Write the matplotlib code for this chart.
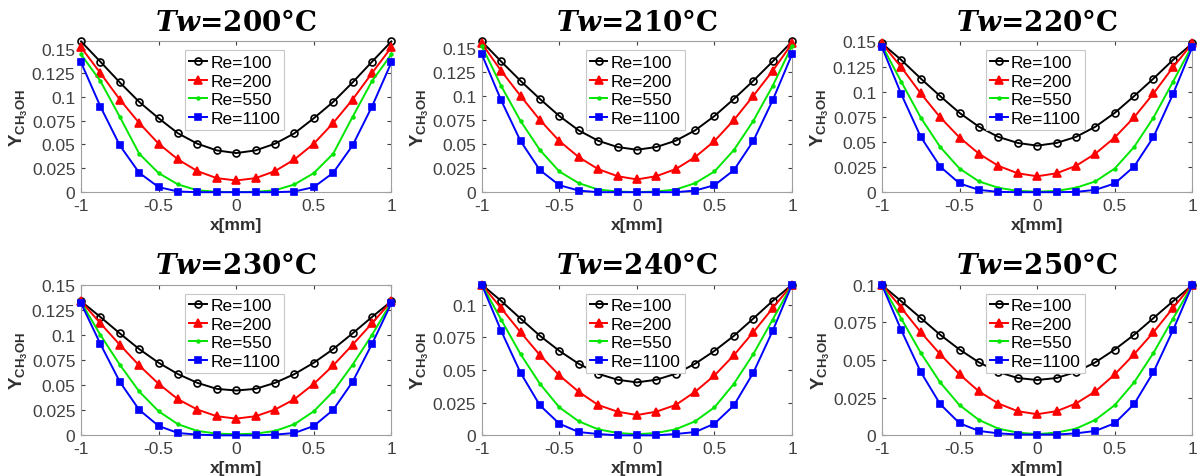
import matplotlib
matplotlib.use("Agg")
import matplotlib.pyplot as plt

plt.rcParams['font.family'] = ['Liberation Sans', 'DejaVu Sans']
plt.rcParams['mathtext.fontset'] = 'custom'
plt.rcParams['mathtext.rm'] = 'Liberation Sans'
plt.rcParams['mathtext.bf'] = 'Liberation Sans:bold'
plt.rcParams['mathtext.it'] = 'DejaVu Serif:italic:bold'

x = [-1, -0.875, -0.75, -0.625, -0.5, -0.375, -0.25, -0.125, 0,
     0.125, 0.25, 0.375, 0.5, 0.625, 0.75, 0.875, 1]

temps = [200, 210, 220, 230, 240, 250]
re_labels = ["Re=100", "Re=200", "Re=550", "Re=1100"]

# Y_CH3OH profiles, one row per wall temperature
re100 = [
    [0.158, 0.1367, 0.115, 0.0946, 0.0775, 0.0617, 0.0508, 0.0438, 0.041, 0.0438, 0.0508, 0.0617, 0.0775, 0.0946, 0.115, 0.1367, 0.158],
    [0.1573, 0.1364, 0.1162, 0.0973, 0.0795, 0.0645, 0.0537, 0.0471, 0.0443, 0.0471, 0.0537, 0.0645, 0.0795, 0.0973, 0.1162, 0.1364, 0.1573],
    [0.148, 0.1315, 0.1131, 0.0956, 0.0789, 0.0651, 0.055, 0.049, 0.0463, 0.049, 0.055, 0.0651, 0.0789, 0.0956, 0.1131, 0.1315, 0.148],
    [0.1334, 0.1177, 0.1014, 0.0858, 0.0722, 0.0609, 0.0522, 0.0462, 0.0446, 0.0462, 0.0522, 0.0609, 0.0722, 0.0858, 0.1014, 0.1177, 0.1334],
    [0.1153, 0.1028, 0.0893, 0.0761, 0.0646, 0.0547, 0.0471, 0.0425, 0.0405, 0.0425, 0.0471, 0.0547, 0.0646, 0.0761, 0.0893, 0.1028, 0.1153],
    [0.0996, 0.0889, 0.0778, 0.0667, 0.0569, 0.0484, 0.042, 0.038, 0.0367, 0.038, 0.042, 0.0484, 0.0569, 0.0667, 0.0778, 0.0889, 0.0996],
]
re200 = [
    [0.1518, 0.1248, 0.0971, 0.0725, 0.0508, 0.0343, 0.0221, 0.0147, 0.0123, 0.0147, 0.0221, 0.0343, 0.0508, 0.0725, 0.0971, 0.1248, 0.1518],
    [0.1552, 0.1266, 0.1005, 0.0753, 0.0534, 0.0366, 0.0241, 0.0167, 0.0133, 0.0167, 0.0241, 0.0366, 0.0534, 0.0753, 0.1005, 0.1266, 0.1552],
    [0.148, 0.1242, 0.0983, 0.0745, 0.0544, 0.0383, 0.0262, 0.0188, 0.0158, 0.0188, 0.0262, 0.0383, 0.0544, 0.0745, 0.0983, 0.1242, 0.148],
    [0.1334, 0.1114, 0.0901, 0.0695, 0.0512, 0.0359, 0.0256, 0.019, 0.0166, 0.019, 0.0256, 0.0359, 0.0512, 0.0695, 0.0901, 0.1114, 0.1334],
    [0.1153, 0.0972, 0.0789, 0.0613, 0.0458, 0.0333, 0.0232, 0.0181, 0.0155, 0.0181, 0.0232, 0.0333, 0.0458, 0.0613, 0.0789, 0.0972, 0.1153],
    [0.1, 0.0844, 0.0684, 0.0538, 0.0404, 0.0291, 0.0211, 0.016, 0.014, 0.016, 0.0211, 0.0291, 0.0404, 0.0538, 0.0684, 0.0844, 0.1],
]
re550 = [
    [0.1444, 0.1164, 0.0789, 0.0403, 0.02, 0.0081, 0.002, 0.0004, 0.0, 0.0004, 0.002, 0.0081, 0.02, 0.0403, 0.0789, 0.1164, 0.1444],
    [0.1528, 0.1109, 0.0743, 0.044, 0.0216, 0.0094, 0.0028, 0.0007, 0.0, 0.0007, 0.0028, 0.0094, 0.0216, 0.044, 0.0743, 0.1109, 0.1528],
    [0.146, 0.1097, 0.0742, 0.045, 0.0235, 0.0107, 0.0044, 0.0013, 0.0005, 0.0013, 0.0044, 0.0107, 0.0235, 0.045, 0.0742, 0.1097, 0.146],
    [0.1324, 0.0998, 0.0702, 0.0436, 0.0239, 0.011, 0.0043, 0.0017, 0.001, 0.0017, 0.0043, 0.011, 0.0239, 0.0436, 0.0702, 0.0998, 0.1324],
    [0.1153, 0.0885, 0.0621, 0.0394, 0.0214, 0.0107, 0.0046, 0.0018, 0.0008, 0.0018, 0.0046, 0.0107, 0.0214, 0.0394, 0.0621, 0.0885, 0.1153],
    [0.0996, 0.0773, 0.0547, 0.0351, 0.02, 0.0102, 0.0044, 0.0018, 0.0008, 0.0018, 0.0044, 0.0102, 0.02, 0.0351, 0.0547, 0.0773, 0.0996],
]
re1100 = [
    [0.136, 0.0897, 0.049, 0.0203, 0.0053, 0.0007, 0.0, 0.0, 0.0, 0.0, 0.0, 0.0007, 0.0053, 0.0203, 0.049, 0.0897, 0.136],
    [0.144, 0.0959, 0.0534, 0.023, 0.0073, 0.0017, 0.0, 0.0, 0.0, 0.0, 0.0, 0.0017, 0.0073, 0.023, 0.0534, 0.0959, 0.144],
    [0.1443, 0.0973, 0.055, 0.0255, 0.0087, 0.0023, 0.0003, 0.0, 0.0, 0.0, 0.0003, 0.0023, 0.0087, 0.0255, 0.055, 0.0973, 0.1443],
    [0.1314, 0.0908, 0.0532, 0.0253, 0.0093, 0.0023, 0.0007, 0.0, 0.0, 0.0, 0.0007, 0.0023, 0.0093, 0.0253, 0.0532, 0.0908, 0.1314],
    [0.1153, 0.0799, 0.0478, 0.0229, 0.0089, 0.0025, 0.001, 0.0, 0.0, 0.0, 0.001, 0.0025, 0.0089, 0.0229, 0.0478, 0.0799, 0.1153],
    [0.0996, 0.0696, 0.042, 0.0207, 0.008, 0.0029, 0.0013, 0.0005, 0.0005, 0.0005, 0.0013, 0.0029, 0.008, 0.0207, 0.042, 0.0696, 0.0996],
]

y_tops = [0.158, 0.1573, 0.1485, 0.15, 0.1153, 0.1]
x_ticks = [-1, -0.5, 0, 0.5, 1]
x_ticklabels = ["-1", "-0.5", "0", "0.5", "1"]
y_ticks = [0, 0.025, 0.05, 0.075, 0.1, 0.125, 0.15]
y_ticklabels = ["0", "0.025", "0.05", "0.075", "0.1", "0.125", "0.15"]

series = [re100, re200, re550, re1100]
colors = ["k", (1, 0, 0), (0, 0.9, 0), (0, 0, 1)]
markers = ["o", "^", ".", "s"]
msizes = [5, 6, 4, 4.5]

fig = plt.figure(figsize=(11.99, 4.77), dpi=100)
lefts = [0.0676, 0.4018, 0.7356]
bottoms = [0.595, 0.0853]

for i, t in enumerate(temps):
    ax = fig.add_axes([lefts[i % 3], bottoms[i // 3], 0.2588, 0.316])
    for s, c, m, ms, lab in zip(series, colors, markers, msizes, re_labels):
        ax.plot(x, s[i], color=c, marker=m, markersize=ms, lw=1.4,
                fillstyle='none' if m == "o" else 'full', mew=1.2,
                label=lab, clip_on=False, zorder=3)
    ax.set_xlim(-1, 1)
    ax.set_ylim(0, y_tops[i])
    ax.set_xticks(x_ticks)
    ax.set_xticklabels(x_ticklabels)
    yt = [v for v in y_ticks if v <= y_tops[i] + 0.002]
    ax.set_yticks(yt)
    ax.set_yticklabels(y_ticklabels[:len(yt)])
    ax.tick_params(direction='in', length=3, labelsize=12.5, colors='#404040',
                   top=True, right=True, pad=4)
    for sp in ax.spines.values():
        sp.set_color('#a0a0a0')
        sp.set_linewidth(0.8)
    ax.set_xlabel("x[mm]", fontsize=12.5, fontweight='bold', color='#303030', labelpad=3)
    ax.set_ylabel(r"$\mathbf{Y_{CH_3OH}}$", fontsize=13.5, color='#303030', labelpad=1)
    ax.set_title(r"$\mathit{Tw}$=%d°C" % t, fontsize=20, fontweight='bold',
                 family='DejaVu Serif', pad=8)
    leg = ax.legend(loc='upper center', bbox_to_anchor=(0.495, 0.94), fontsize=12.5,
                    handlelength=1.0, handletextpad=0.2, labelspacing=0.2,
                    borderpad=0.25, borderaxespad=0, fancybox=False, framealpha=1,
                    numpoints=1)
    leg.get_frame().set_edgecolor('#c8c8c8')
    leg.get_frame().set_linewidth(0.8)

fig.savefig("out.png", dpi=100)
